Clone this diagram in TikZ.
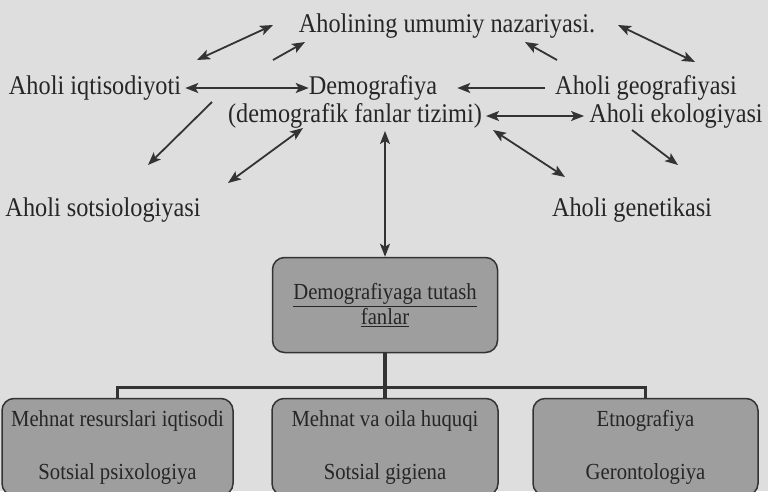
\documentclass[tikz,border=0pt]{standalone}
\usepackage{fontspec}
\setmainfont{Liberation Serif}
\newfontfamily\termfont[FakeStretch=0.9]{Liberation Serif}
\usetikzlibrary{arrows.meta,positioning}

\begin{document}
\begin{tikzpicture}[x=1pt, y=-1pt,
    term/.style={text=black!85, inner sep=0pt, font=\termfont\fontsize{27}{29}\selectfont},
    fanbox/.style={rectangle, rounded corners=12pt, draw=black!80, line width=1.5pt, fill=black!38, text=black!85, align=center, inner sep=0pt},
    subbox/.style={fanbox, minimum height=97pt, font=\termfont\fontsize{23}{53}\selectfont},
    arrow/.style={-{Stealth[length=13pt,width=10pt,inset=3pt]}, line width=1.8pt, draw=black!80},
    dblarrow/.style={{Stealth[length=13pt,width=10pt,inset=3pt]}-{Stealth[length=13pt,width=10pt,inset=3pt]}, line width=1.8pt, draw=black!80},
    tree/.style={line width=3.4pt, draw=black!80}
]
    \useasboundingbox (0,0) rectangle (768,491);
    \clip (0,0) rectangle (768,491);
    \fill[black!13] (0,0) rectangle (768,491);

    % terms round the centre
    \node[term] (top) at (447,26) {Aholining umumiy nazariyasi.};
    \node[term] (iqt) at (95,88) {Aholi iqtisodiyoti};
    \node[term] (demo) at (373,88) {Demografiya};
    \node[term] (geo) at (646,88) {Aholi geografiyasi};
    \node[term] (tiz) at (355,116) {(demografik fanlar tizimi)};
    \node[term] (eko) at (676,116) {Aholi ekologiyasi};
    \node[term] (sots) at (103,210) {Aholi sotsiologiyasi};
    \node[term] (gen) at (632,210) {Aholi genetikasi};

    % boxes
    \node[fanbox, minimum width=225pt, minimum height=95pt, font=\termfont\fontsize{23}{25}\selectfont] (cen) at (385,305) {\underline{Demografiyaga tutash}\\\underline{fanlar}};
    \node[subbox, minimum width=231pt] (b1) at (117.5,447) {Mehnat resurslari iqtisodi\\Sotsial psixologiya};
    \node[subbox, minimum width=226pt] (b2) at (385,447) {Mehnat va oila huquqi\\Sotsial gigiena};
    \node[subbox, minimum width=225pt] (b3) at (645.5,447) {Etnografiya\\Gerontologiya};

    % free arrow ends
    \coordinate (iqtup) at (197,60);
    \coordinate (topleft) at (273,25);
    \coordinate (demoup) at (273,60);
    \coordinate (topmid) at (305,42);
    \coordinate (geoup) at (557,60);
    \coordinate (topmid2) at (525,42);
    \coordinate (topright) at (618,25);
    \coordinate (georight) at (695,62);
    \coordinate (tizleft) at (212,102);
    \coordinate (sotsup) at (148,165);
    \coordinate (tizleft2) at (303,128);
    \coordinate (sotsup2) at (228,183);
    \coordinate (tizdown) at (385,131);
    \coordinate (tizright) at (493,130);
    \coordinate (genup) at (565,177);
    \coordinate (ekodown) at (632,130);
    \coordinate (genup2) at (678,165);

    \draw[dblarrow] (iqtup) -- (topleft);
    \draw[arrow] (demoup) -- (topmid);
    \draw[arrow] (geoup) -- (topmid2);
    \draw[dblarrow] (topright) -- (georight);
    \draw[dblarrow, shorten <=4pt] (iqt.east) -- (demo.west);
    \draw[arrow, shorten <=10pt, shorten >=20pt] (geo.west) -- (demo.east);
    \draw[dblarrow, shorten <=4pt, shorten >=5pt] (tiz.east) -- (eko.west);
    \draw[arrow] (tizleft) -- (sotsup);
    \draw[dblarrow] (tizleft2) -- (sotsup2);
    \draw[dblarrow] (cen.north) -- (tizdown);
    \draw[dblarrow] (tizright) -- (genup);
    \draw[arrow] (ekodown) -- (genup2);

    % tree below the box
    \draw[tree] (cen.south) -- (b2.north);
    \draw[tree] (b1.north) -- ++(0,-10) -| (b3.north);
\end{tikzpicture}
\end{document}
